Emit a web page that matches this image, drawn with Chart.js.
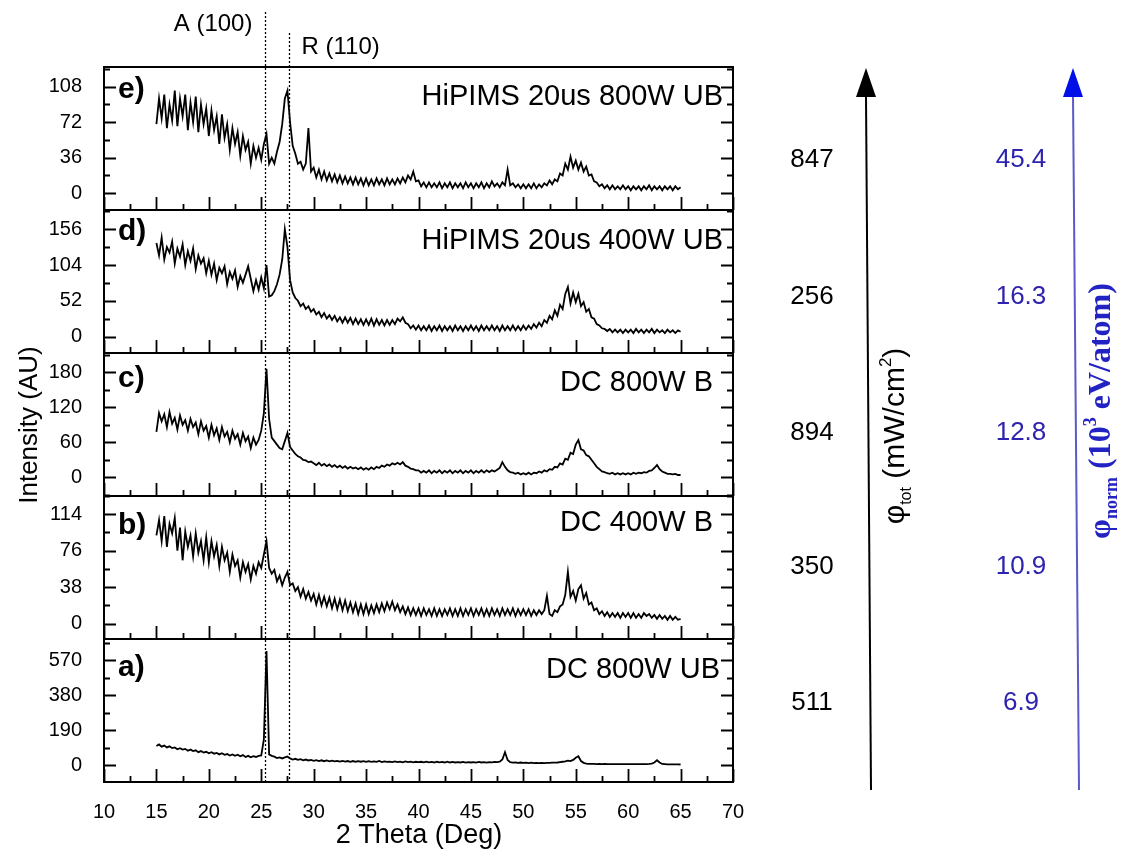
<!DOCTYPE html>
<html lang="en">
<head>
<meta charset="UTF-8">
<title>XRD patterns</title>
<script src="https://cdn.jsdelivr.net/npm/chart.js"></script>
<style>
  html, body { margin: 0; padding: 0; background: #fff; }
  canvas { display: block; }
</style>
</head>
<body>
<canvas id="xrd" width="1124" height="853"></canvas>
<script>
// 2 theta grid (deg), one row per 5 deg
const theta = [
  15, 15.25, 15.5, 15.75, 16, 16.25, 16.5, 16.75, 17, 17.25, 17.5, 17.75, 18, 18.25, 18.5, 18.75, 19, 19.25, 19.5, 19.75,
  20, 20.25, 20.5, 20.75, 21, 21.25, 21.5, 21.75, 22, 22.25, 22.5, 22.75, 23, 23.25, 23.5, 23.75, 24, 24.25, 24.5, 24.75,
  25, 25.25, 25.5, 25.75, 26, 26.25, 26.5, 26.75, 27, 27.25, 27.5, 27.75, 28, 28.25, 28.5, 28.75, 29, 29.25, 29.5, 29.75,
  30, 30.25, 30.5, 30.75, 31, 31.25, 31.5, 31.75, 32, 32.25, 32.5, 32.75, 33, 33.25, 33.5, 33.75, 34, 34.25, 34.5, 34.75,
  35, 35.25, 35.5, 35.75, 36, 36.25, 36.5, 36.75, 37, 37.25, 37.5, 37.75, 38, 38.25, 38.5, 38.75, 39, 39.25, 39.5, 39.75,
  40, 40.25, 40.5, 40.75, 41, 41.25, 41.5, 41.75, 42, 42.25, 42.5, 42.75, 43, 43.25, 43.5, 43.75, 44, 44.25, 44.5, 44.75,
  45, 45.25, 45.5, 45.75, 46, 46.25, 46.5, 46.75, 47, 47.25, 47.5, 47.75, 48, 48.25, 48.5, 48.75, 49, 49.25, 49.5, 49.75,
  50, 50.25, 50.5, 50.75, 51, 51.25, 51.5, 51.75, 52, 52.25, 52.5, 52.75, 53, 53.25, 53.5, 53.75, 54, 54.25, 54.5, 54.75,
  55, 55.25, 55.5, 55.75, 56, 56.25, 56.5, 56.75, 57, 57.25, 57.5, 57.75, 58, 58.25, 58.5, 58.75, 59, 59.25, 59.5, 59.75,
  60, 60.25, 60.5, 60.75, 61, 61.25, 61.5, 61.75, 62, 62.25, 62.5, 62.75, 63, 63.25, 63.5, 63.75, 64, 64.25, 64.5, 64.75,
  65
];

const hipims800UB = [ // e)
  70, 96, 76, 100, 66, 90, 74, 104, 68, 96, 78, 100, 64, 92, 72, 98, 62, 90, 70, 86,
  58, 84, 64, 78, 50, 80, 56, 70, 44, 66, 50, 62, 38, 58, 44, 52, 30, 48, 36, 46,
  34, 50, 60, 30, 36, 30, 42, 52, 70, 96, 104, 72, 48, 40, 30, 32, 24, 30, 66, 22,
  26, 16, 24, 14, 22, 13, 20, 12, 19, 11, 18, 10, 17, 10, 16, 9, 16, 9, 15, 8,
  15, 8, 14, 8, 15, 9, 14, 8, 15, 9, 14, 9, 15, 10, 16, 11, 18, 14, 22, 12,
  13, 7, 11, 6, 11, 6, 10, 6, 11, 5, 10, 6, 11, 5, 10, 6, 10, 5, 11, 6,
  10, 5, 10, 6, 11, 5, 10, 6, 12, 7, 10, 6, 11, 8, 24, 8, 10, 6, 9, 5,
  9, 5, 9, 5, 10, 5, 9, 6, 10, 8, 13, 9, 14, 12, 20, 18, 30, 24, 37, 26,
  33, 24, 31, 22, 27, 18, 19, 12, 11, 7, 9, 5, 8, 4, 8, 4, 7, 4, 8, 4,
  7, 3, 7, 4, 7, 3, 7, 4, 8, 3, 7, 4, 7, 3, 7, 4, 7, 3, 7, 4,
  6
];
const hipims400UB = [ // d)
  136, 118, 144, 112, 130, 122, 138, 106, 128, 116, 134, 104, 124, 110, 128, 98, 118, 106, 114, 92,
  110, 90, 106, 82, 100, 92, 102, 76, 94, 84, 96, 72, 88, 78, 90, 102, 84, 66, 82, 68,
  86, 70, 104, 58, 60, 66, 76, 90, 112, 156, 130, 82, 64, 56, 52, 44, 48, 40, 44, 36,
  40, 32, 36, 28, 34, 26, 31, 24, 30, 22, 28, 20, 28, 20, 27, 18, 26, 18, 25, 17,
  25, 17, 26, 16, 25, 17, 24, 16, 24, 17, 24, 18, 26, 22, 28, 20, 18, 12, 16, 10,
  16, 9, 15, 9, 16, 8, 15, 9, 16, 8, 15, 9, 15, 8, 16, 9, 15, 8, 15, 9,
  16, 9, 15, 8, 16, 9, 15, 9, 16, 9, 15, 8, 16, 9, 15, 9, 16, 9, 15, 9,
  16, 10, 16, 11, 18, 13, 20, 15, 24, 20, 30, 25, 38, 30, 46, 40, 62, 72, 48, 64,
  50, 62, 44, 50, 36, 40, 28, 26, 18, 16, 12, 11, 8, 11, 6, 10, 6, 10, 5, 10,
  6, 10, 5, 11, 6, 10, 5, 10, 6, 11, 5, 10, 6, 9, 5, 10, 6, 9, 5, 9,
  7
];
const dc800B = [ // c)
  78, 110, 96, 108, 86, 112, 92, 102, 82, 106, 90, 98, 80, 100, 86, 94, 74, 96, 80, 88,
  68, 90, 72, 84, 64, 86, 70, 78, 60, 80, 66, 74, 56, 76, 62, 70, 50, 68, 56, 64,
  80, 110, 186, 100, 68, 62, 56, 50, 48, 62, 76, 52, 46, 40, 36, 34, 30, 29, 26, 27,
  24, 21, 25, 20, 23, 19, 22, 18, 21, 17, 20, 16, 19, 15, 18, 15, 17, 14, 17, 13,
  16, 13, 17, 14, 18, 16, 20, 18, 22, 20, 24, 22, 25, 22, 26, 20, 18, 15, 14, 12,
  12, 8, 11, 8, 12, 7, 11, 8, 12, 7, 11, 8, 12, 7, 11, 8, 12, 7, 11, 8,
  12, 7, 11, 8, 12, 8, 12, 9, 12, 10, 13, 16, 26, 18, 12, 9, 8, 6, 8, 5,
  7, 5, 8, 5, 8, 7, 10, 8, 12, 10, 14, 13, 18, 17, 24, 22, 32, 30, 42, 40,
  56, 64, 48, 46, 38, 36, 30, 24, 18, 14, 10, 9, 7, 6, 8, 5, 7, 5, 7, 5,
  7, 5, 8, 6, 8, 7, 9, 8, 11, 12, 16, 21, 14, 10, 8, 6, 6, 5, 6, 4,
  4
];
const dc400B = [ // b)
  92, 108, 86, 112, 80, 104, 94, 110, 76, 100, 66, 96, 80, 92, 70, 94, 74, 86, 66, 90,
  64, 86, 70, 82, 60, 80, 66, 74, 54, 72, 60, 66, 48, 64, 54, 62, 46, 60, 52, 64,
  58, 72, 86, 58, 52, 56, 44, 50, 40, 48, 54, 40, 42, 34, 38, 28, 36, 26, 33, 24,
  31, 20, 30, 19, 28, 18, 27, 16, 26, 15, 25, 14, 24, 13, 22, 12, 21, 10, 20, 10,
  20, 10, 19, 11, 20, 12, 21, 13, 22, 15, 23, 14, 20, 12, 18, 10, 17, 9, 16, 9,
  16, 8, 16, 9, 15, 8, 16, 8, 15, 8, 15, 9, 16, 8, 15, 8, 16, 8, 15, 9,
  16, 8, 15, 9, 16, 8, 15, 8, 16, 9, 15, 8, 16, 9, 15, 9, 16, 8, 15, 9,
  15, 9, 15, 8, 14, 9, 14, 10, 14, 29, 10, 8, 14, 12, 18, 20, 30, 54, 28, 34,
  24, 36, 40, 26, 32, 20, 22, 14, 16, 10, 13, 8, 12, 7, 11, 7, 11, 6, 11, 7,
  11, 6, 11, 6, 10, 6, 11, 8, 10, 6, 9, 5, 9, 5, 8, 4, 8, 4, 7, 4,
  5
];
const dc800UB = [ // a)
  104, 112, 100, 106, 96, 102, 92, 96, 86, 92, 84, 88, 78, 84, 76, 80, 70, 76, 68, 72,
  64, 70, 62, 66, 58, 64, 56, 60, 52, 58, 50, 56, 48, 54, 44, 50, 42, 48, 44, 50,
  52, 140, 620, 58, 50, 46, 38, 42, 36, 42, 46, 36, 30, 34, 28, 32, 26, 30, 25, 28,
  23, 27, 22, 26, 21, 25, 20, 24, 20, 23, 19, 23, 19, 22, 18, 22, 18, 21, 18, 21,
  17, 21, 17, 20, 17, 22, 16, 20, 17, 19, 16, 20, 16, 19, 15, 20, 16, 19, 15, 18,
  16, 18, 15, 19, 15, 17, 14, 18, 15, 17, 14, 18, 14, 17, 14, 16, 14, 17, 13, 16,
  14, 16, 13, 17, 14, 16, 13, 16, 15, 17, 16, 18, 30, 70, 28, 16, 13, 14, 12, 14,
  12, 13, 11, 13, 11, 12, 11, 12, 11, 12, 12, 13, 13, 14, 16, 18, 20, 24, 22, 28,
  40, 48, 22, 12, 8, 7, 6, 6, 5, 6, 5, 6, 5, 5, 5, 5, 5, 5, 5, 5,
  5, 5, 5, 5, 5, 5, 5, 5, 6, 8, 14, 26, 14, 6, 5, 4, 4, 4, 4, 4,
  3
];

// panels listed top to bottom
const panelLetters = ['e)', 'd)', 'c)', 'b)', 'a)'];
const panelTitles = ['HiPIMS 20us 800W UB', 'HiPIMS 20us 400W UB', 'DC 800W B', 'DC 400W B', 'DC 800W UB'];
const phiTot = ['847', '256', '894', '350', '511'];
const phiNorm = ['45.4', '16.3', '12.8', '10.9', '6.9'];

// axis ticks / ranges
const xTicks = [10, 15, 20, 25, 30, 35, 40, 45, 50, 55, 60, 65, 70];
const ticksE = [0, 36, 72, 108];
const ticksD = [0, 52, 104, 156];
const ticksC = [0, 60, 120, 180];
const ticksB = [0, 38, 76, 114];
const ticksA = [0, 190, 380, 570];
const rangeE = [-17, 128];
const rangeD = [-24, 184];
const rangeC = [-32, 213];
const rangeB = [-16, 133];
const rangeA = [-92, 685];

// reference reflections
const peakNames = ['A (100)', 'R (110)'];
const peakTheta = [25.4, 27.6];

const FONT = "'Liberation Sans', Arial, Helvetica, sans-serif";
Chart.defaults.font.family = FONT;
Chart.defaults.color = '#000';

function yScale(ticks, range) {
    return {
        type: 'linear',
        position: 'left',
        stack: 'panels',
        stackWeight: 1,
        min: range[0],
        max: range[1],
        grid: { display: false },
        border: { display: false },
        ticks: { padding: 14, font: { size: 20 }, color: '#000', autoSkip: false },
        afterBuildTicks: s => { s.ticks = ticks.map(v => ({ value: v })); },
        afterFit: s => { s.width = 60; }
    };
}

function line(data, axis) {
    return {
        data: data,
        yAxisID: axis,
        borderColor: '#000',
        borderWidth: 1.8,
        pointRadius: 0,
        tension: 0,
        fill: false
    };
}

const panelIds = ['yE', 'yD', 'yC', 'yB', 'yA'];
const panelTicks = [ticksE, ticksD, ticksC, ticksB, ticksA];

function rotatedText(ctx, parts, cx, cy) {
    // parts: [text, font, baseline shift]
    ctx.save();
    ctx.translate(cx, cy);
    ctx.rotate(-Math.PI / 2);
    ctx.textAlign = 'left';
    ctx.textBaseline = 'alphabetic';
    let total = 0;
    parts.forEach(p => { ctx.font = p[1]; total += ctx.measureText(p[0]).width; });
    let x = -total / 2;
    parts.forEach(p => {
        ctx.font = p[1];
        ctx.fillText(p[0], x, p[2]);
        x += ctx.measureText(p[0]).width;
    });
    ctx.restore();
}

const decorations = {
    id: 'decorations',
    afterDatasetsDraw(chart) {
        const ctx = chart.ctx;
        const xs = chart.scales.x;
        const area = chart.chartArea;
        ctx.save();
        ctx.strokeStyle = '#000';
        ctx.fillStyle = '#000';

        panelIds.forEach((id, i) => {
            const s = chart.scales[id];
            const top = s.top, bottom = s.bottom;
            const step = panelTicks[i][1] / 2;

            // inward ticks, left and right
            ctx.lineWidth = 1.8;
            ctx.setLineDash([]);
            ctx.beginPath();
            for (let k = Math.ceil(s.min / step); k <= Math.floor(s.max / step); k++) {
                const y = Math.round(s.getPixelForValue(k * step)) + 0.5;
                const len = k % 2 === 0 ? 12 : 6;
                ctx.moveTo(area.left, y); ctx.lineTo(area.left + len, y);
                ctx.moveTo(area.right, y); ctx.lineTo(area.right - len, y);
            }
            // inward ticks, bottom
            for (let k = 4; k <= 28; k++) {
                const x = Math.round(xs.getPixelForValue(k * 2.5)) + 0.5;
                const len = k % 2 === 0 ? 13 : 6;
                ctx.moveTo(x, bottom); ctx.lineTo(x, bottom - len);
            }
            ctx.stroke();

            // frame
            ctx.lineWidth = 2;
            ctx.strokeRect(area.left, top, area.right - area.left, bottom - top);

            // panel letter
            ctx.font = 'bold 30px ' + FONT;
            ctx.textAlign = 'left';
            ctx.textBaseline = 'alphabetic';
            ctx.fillText(panelLetters[i], area.left + 14, top + [31, 30, 34, 38, 37][i]);

            // panel title
            ctx.font = '29px ' + FONT;
            ctx.textAlign = 'right';
            ctx.fillText(panelTitles[i], [723, 723, 713, 713, 720][i], top + [38, 39, 38, 35, 39][i]);
        });

        // dotted reference lines
        ctx.lineWidth = 1.3;
        ctx.setLineDash([2, 2]);
        ctx.beginPath();
        peakTheta.forEach((t, j) => {
            const x = Math.round(xs.getPixelForValue(t)) + 0.5;
            ctx.moveTo(x, [12, 33][j]);
            ctx.lineTo(x, area.bottom);
        });
        ctx.stroke();
        ctx.setLineDash([]);
        ctx.restore();
    },
    afterDraw(chart) {
        const ctx = chart.ctx;
        const xs = chart.scales.x;
        ctx.save();
        ctx.fillStyle = '#000';
        ctx.textBaseline = 'alphabetic';

        // reflection labels
        ctx.font = '24px ' + FONT;
        ctx.textAlign = 'right';
        ctx.fillText(peakNames[0], xs.getPixelForValue(peakTheta[0]) - 13, 31);
        ctx.textAlign = 'left';
        ctx.fillText(peakNames[1], xs.getPixelForValue(peakTheta[1]) + 13, 54);

        // axis titles
        ctx.font = '27px ' + FONT;
        ctx.textAlign = 'center';
        ctx.fillText('2 Theta (Deg)', 419, 843);
        rotatedText(ctx, [['Intensity (AU)', '26px ' + FONT, 0]], 37, 425);

        // right-hand annotation: two arrows
        ctx.lineWidth = 2;
        ctx.strokeStyle = '#000';
        ctx.beginPath(); ctx.moveTo(871, 790); ctx.lineTo(866, 96); ctx.stroke();
        ctx.beginPath(); ctx.moveTo(866, 68); ctx.lineTo(856, 97); ctx.lineTo(876, 97); ctx.closePath(); ctx.fill();

        ctx.strokeStyle = '#5a5ac8';
        ctx.beginPath(); ctx.moveTo(1079, 790); ctx.lineTo(1073, 96); ctx.stroke();
        ctx.fillStyle = '#0010e6';
        ctx.beginPath(); ctx.moveTo(1073, 68); ctx.lineTo(1063, 97); ctx.lineTo(1083, 97); ctx.closePath(); ctx.fill();

        const rowY = [160, 297, 433, 567, 703];
        ctx.font = '26px ' + FONT;
        ctx.textAlign = 'center';
        ctx.textBaseline = 'middle';
        phiTot.forEach((v, i) => { ctx.fillStyle = '#000'; ctx.fillText(v, 812, rowY[i]); });
        phiNorm.forEach((v, i) => { ctx.fillStyle = '#2d23af'; ctx.fillText(v, 1021, rowY[i]); });

        ctx.fillStyle = '#000';
        rotatedText(ctx, [
            ['\u03c6', '30px ' + FONT, 0],
            ['tot', '16px ' + FONT, 7],
            [' (mW/cm', '30px ' + FONT, 0],
            ['2', '17px ' + FONT, -13],
            [')', '30px ' + FONT, 0]
        ], 904, 436);

        const SERIF = "'Liberation Serif', 'Times New Roman', serif";
        ctx.fillStyle = '#2323c3';
        rotatedText(ctx, [
            ['\u03c6', 'bold 32px ' + SERIF, 0],
            ['norm', 'bold 18px ' + SERIF, 7],
            [' (10', 'bold 32px ' + SERIF, 0],
            ['3', 'bold 18px ' + SERIF, -14],
            [' eV/atom)', 'bold 32px ' + SERIF, 0]
        ], 1110, 411);
        ctx.restore();
    }
};

new Chart(document.getElementById('xrd'), {
    type: 'line',
    data: {
        labels: theta,
        datasets: [
            line(dc800UB, 'yA'),
            line(dc400B, 'yB'),
            line(dc800B, 'yC'),
            line(hipims400UB, 'yD'),
            line(hipims800UB, 'yE')
        ]
    },
    options: {
        responsive: false,
        animation: false,
        devicePixelRatio: 1,
        layout: { padding: { left: 44, right: 391, top: 67, bottom: 31 } },
        plugins: { legend: { display: false }, tooltip: { enabled: false } },
        scales: {
            x: {
                type: 'linear',
                position: 'bottom',
                min: 10,
                max: 70,
                grid: { display: false },
                border: { display: false },
                ticks: { padding: 10, font: { size: 20 }, color: '#000', maxRotation: 0, autoSkip: false },
                afterBuildTicks: s => { s.ticks = xTicks.map(v => ({ value: v })); },
                afterFit: s => { s.height = 40; }
            },
            yA: yScale(ticksA, rangeA),
            yB: yScale(ticksB, rangeB),
            yC: yScale(ticksC, rangeC),
            yD: yScale(ticksD, rangeD),
            yE: yScale(ticksE, rangeE)
        }
    },
    plugins: [decorations]
});
</script>
</body>
</html>
